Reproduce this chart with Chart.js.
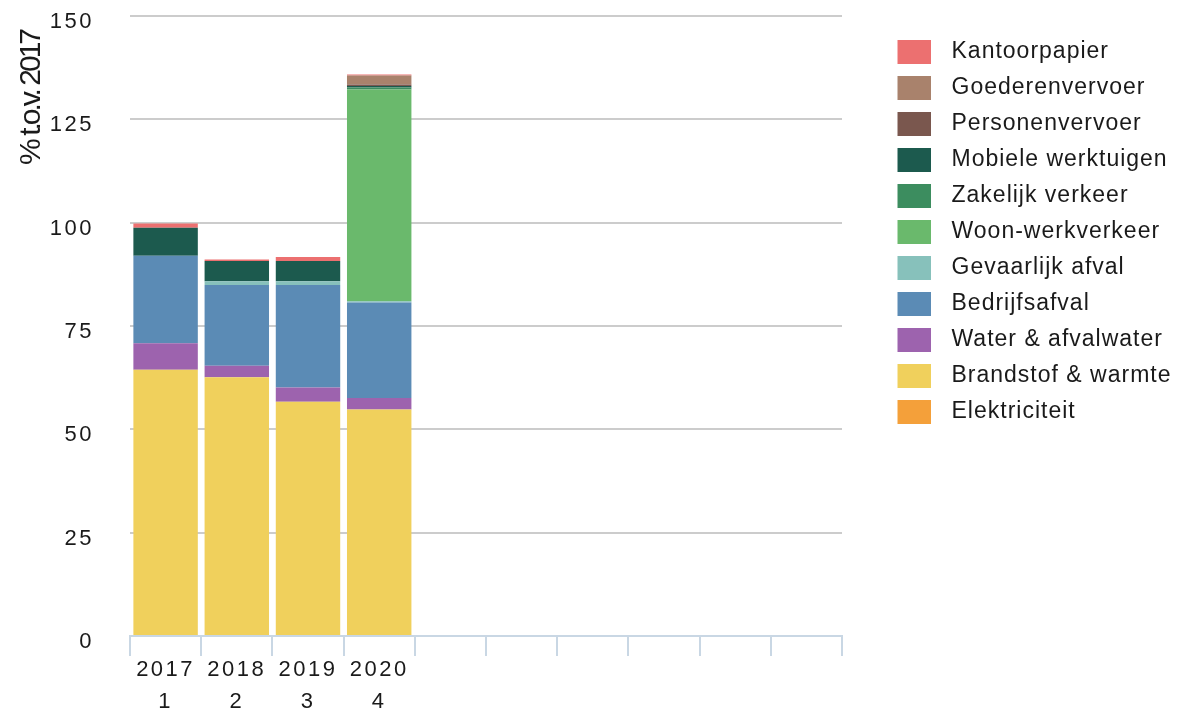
<!DOCTYPE html>
<html>
<head>
<meta charset="utf-8">
<script src="https://cdn.jsdelivr.net/npm/chart.js@4.4.1/dist/chart.umd.min.js"></script>
<style>
  html, body { margin: 0; padding: 0; background: #ffffff; }
  #wrap { width: 1178px; height: 710px; position: relative; }
</style>
</head>
<body>
<div id="wrap"><canvas id="c" width="1178" height="710"></canvas></div>
<script>
// ---- data ----
const categories = [['2017', '1'], ['2018', '2'], ['2019', '3'], ['2020', '4'], '', '', '', '', '', ''];
const yTicks = [0, 25, 50, 75, 100, 125, 150];
const yTitle = '% t.o.v. 2017';

const elektriciteit     = [0, 0, 0, 0];
const brandstofWarmte   = [64.4, 62.6, 56.7, 54.8];
const waterAfvalwater   = [6.4, 2.8, 3.4, 2.8];
const bedrijfsafval     = [21.2, 19.5, 24.8, 23.1];
const gevaarlijkAfval   = [0, 0.9, 0.9, 0.3];
const woonWerkverkeer   = [0, 0, 0, 51.2];
const zakelijkVerkeer   = [0, 0, 0, 0.5];
const mobieleWerktuigen = [6.8, 4.9, 4.9, 0.35];
const personenvervoer   = [0, 0, 0, 0.35];
const goederenvervoer   = [0, 0, 0, 2.2];
const kantoorpapier     = [1.0, 0.4, 1.0, 0.25];

const seriesNames = ['Elektriciteit', 'Brandstof & warmte', 'Water & afvalwater', 'Bedrijfsafval',
  'Gevaarlijk afval', 'Woon-werkverkeer', 'Zakelijk verkeer', 'Mobiele werktuigen',
  'Personenvervoer', 'Goederenvervoer', 'Kantoorpapier'];
const seriesValues = [elektriciteit, brandstofWarmte, waterAfvalwater, bedrijfsafval,
  gevaarlijkAfval, woonWerkverkeer, zakelijkVerkeer, mobieleWerktuigen,
  personenvervoer, goederenvervoer, kantoorpapier];
const seriesColors = ['#f4a03a', '#f0d05c', '#9d63ae', '#5b8bb5',
  '#87c1bb', '#6ab96c', '#3c8d5f', '#1c5a4e',
  '#7a574e', '#a9826c', '#ec7070'];

// ---- per-font letter spacing (mimic the reference's text spacing) ----
(function () {
  const proto = CanvasRenderingContext2D.prototype;
  const desc = Object.getOwnPropertyDescriptor(proto, 'font');
  Object.defineProperty(proto, 'font', {
    configurable: true,
    get() { return desc.get.call(this); },
    set(v) {
      desc.set.call(this, v);
      const m = /(\d+(?:\.\d+)?)px/.exec(v);
      const sz = m ? +m[1] : 0;
      let ls = '0px';
      if (sz === 22) ls = '2.5px';
      else if (sz === 23) ls = '1px';
      else if (sz === 30) ls = '-3px';
      try { this.letterSpacing = ls; } catch (e) {}
    }
  });
})();

// legend swatch images (coloured rect at the right half of a transparent canvas)
function swatch(color) {
  const cv = document.createElement('canvas');
  cv.width = 66; cv.height = 24;
  const g = cv.getContext('2d');
  g.fillStyle = color;
  g.fillRect(33, 0, 33, 24);
  return cv;
}
const swatches = seriesColors.map(swatch);

const FONT = "'Liberation Sans', Arial, sans-serif";

// y-axis title, drawn rotated at the top-left like the reference
const yTitlePlugin = {
  id: 'yTitle',
  afterDraw(chart) {
    const ctx = chart.ctx;
    ctx.save();
    ctx.font = "30px " + FONT;
    ctx.fillStyle = '#1a1a1a';
    ctx.translate(32, 31);
    ctx.rotate(-Math.PI / 2);
    ctx.textAlign = 'right';
    ctx.textBaseline = 'middle';
    ctx.fillText(yTitle, 0, 0);
    ctx.restore();
  }
};

const datasets = seriesNames.map((name, i) => ({
  label: name,
  data: seriesValues[i],
  backgroundColor: seriesColors[i],
  borderWidth: 0,
  barPercentage: 0.905,
  categoryPercentage: 1.0
}));

new Chart(document.getElementById('c'), {
  type: 'bar',
  data: { labels: categories, datasets },
  plugins: [yTitlePlugin],
  options: {
    responsive: false,
    animation: false,
    layout: { padding: { top: 16, right: 0, bottom: 0, left: 0 } },
    plugins: {
      tooltip: { enabled: false },
      legend: {
        position: 'right',
        align: 'start',
        reverse: true,
        maxWidth: 336,
        title: { display: true, text: '', padding: 0, font: { size: 10, lineHeight: 1.1 } },
        labels: {
          usePointStyle: true,
          pointStyleWidth: 85,
          padding: 13,
          color: '#1a1a1a',
          font: { family: FONT, size: 23 },
          generateLabels(chart) {
            const items = Chart.defaults.plugins.legend.labels.generateLabels(chart);
            items.forEach(it => { it.pointStyle = swatches[it.datasetIndex]; });
            return items;
          }
        }
      }
    },
    scales: {
      x: {
        stacked: true,
        offset: true,
        grid: { offset: true, drawOnChartArea: false, tickLength: 20, color: '#c9d7e4', lineWidth: 2 },
        border: { color: '#c9d7e4', width: 2 },
        ticks: {
          color: '#1a1a1a',
          padding: -2,
          maxRotation: 0,
          autoSkip: false,
          font: { family: FONT, size: 22, lineHeight: 1.45 }
        },
        afterFit(scale) { scale.height = 74; }
      },
      y: {
        stacked: true,
        min: 0,
        max: 150,
        afterBuildTicks(scale) { scale.ticks = yTicks.map(v => ({ value: v })); },
        grid: { color: '#cccccc', lineWidth: 2, drawTicks: true, tickLength: 36, tickColor: 'rgba(0,0,0,0)' },
        border: { display: false },
        ticks: {
          color: '#1a1a1a',
          padding: 0,
          labelOffset: 6,
          font: { family: FONT, size: 22 }
        },
        title: { display: false, text: yTitle },
        afterFit(scale) { scale.width = 130; }
      }
    }
  }
});
</script>
</body>
</html>
